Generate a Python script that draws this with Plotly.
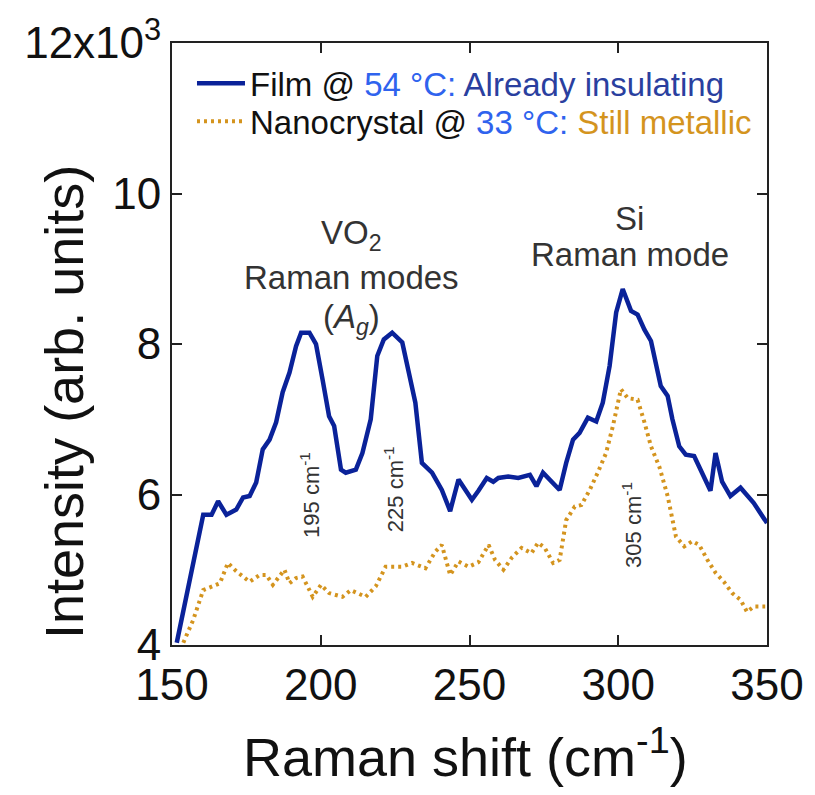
import plotly.graph_objects as go

# Film @ 54 °C (solid blue)
film_x = [151.6,160.5,163.3,165.5,168.3,171.6,173.9,176.1,178.3,180.5,182.8,185.0,187.2,189.5,191.7,193.4,196.2,198.4,200.6,202.8,
          204.5,206.8,208.4,211.8,214.0,216.8,219.0,221.2,224.0,227.4,229.6,231.8,234.0,237.4,240.7,243.5,246.3,250.8,253.0,255.8,
          258.0,259.7,263.0,266.4,270.3,272.5,274.7,277.0,280.3,282.5,284.8,287.0,289.8,292.6,294.8,297.1,299.3,301.5,304.3,306.5,
          308.8,311.0,312.6,314.3,316.6,318.2,320.5,322.7,325.5,328.3,331.0,332.7,334.9,337.7,341.1,345.5,350.0]
film_y = [4.03,5.73,5.73,5.91,5.73,5.80,5.96,5.98,6.16,6.60,6.73,6.96,7.36,7.62,7.97,8.15,8.15,8.0,7.53,7.04,
          6.91,6.33,6.29,6.33,6.55,7.0,7.84,8.06,8.15,8.02,7.62,7.22,6.42,6.29,6.06,5.78,6.20,5.93,6.05,6.22,
          6.17,6.22,6.24,6.22,6.26,6.11,6.29,6.20,6.06,6.42,6.73,6.82,7.02,6.97,7.22,7.71,8.42,8.73,8.44,8.39,
          8.19,8.04,7.75,7.44,7.31,7.0,6.64,6.53,6.51,6.29,6.05,6.55,6.17,5.98,6.09,5.89,5.62]

# Nanocrystal @ 33 °C (dotted orange)
nano_x = [153.8,157.1,160.5,163.8,166.1,168.8,171.6,176.1,179.4,181.7,183.9,187.8,189.5,191.7,193.9,196.2,197.3,200.1,202.8,207.3,
          210.1,215.1,218.5,221.8,227.4,230.7,235.2,238.5,240.7,243.5,246.3,249.7,253.0,256.4,258.6,261.4,264.2,267.5,270.8,273.1,
          275.3,278.1,280.3,282.5,285.4,287.6,290.4,293.1,295.9,298.2,300.9,303.2,306.5,308.8,311.0,313.8,316.6,319.4,322.2,324.9,
          327.2,330.0,332.7,335.5,338.3,341.1,343.3,345.5,349.4]
nano_y = [4.03,4.33,4.73,4.78,4.82,5.09,4.98,4.84,4.93,4.93,4.80,5.0,4.82,4.89,4.91,4.73,4.64,4.80,4.69,4.64,
          4.73,4.64,4.78,5.04,5.04,5.09,5.02,5.24,5.33,4.93,5.11,5.04,5.10,5.33,5.13,5.0,5.16,5.29,5.22,5.36,
          5.29,5.09,5.13,5.66,5.84,5.86,6.06,6.29,6.55,6.91,7.40,7.28,7.26,6.96,6.64,6.37,5.98,5.44,5.31,5.38,
          5.33,5.13,4.96,4.84,4.69,4.60,4.44,4.51,4.51]

x_ticks = [150, 200, 250, 300, 350]
y_ticks = [4, 6, 8, 10, 12]
y_ticktext = ["4", "6", "8", "10", "12x10<sup>3</sup>"]

peak_labels = ["195 cm<sup>-1</sup>", "225 cm<sup>-1</sup>", "305 cm<sup>-1</sup>"]
peak_label_x = [196.2, 224.6, 304.8]
peak_label_y = [6.0, 6.07, 5.59]

BLUE = "#0a2299"
LIGHT_BLUE = "#2f63ee"
MID_BLUE = "#2a3f9f"
ORANGE = "#d4941e"
FONT = "Liberation Sans, Arial, sans-serif"
TXT = "#111111"

fig = go.Figure()
fig.add_trace(go.Scatter(
    x=film_x, y=film_y, mode="lines",
    line=dict(color=BLUE, width=4.5),
    name=f'Film @ <span style="color:{LIGHT_BLUE}">54 °C:</span><span style="color:{MID_BLUE}"> Already insulating</span>',
    legend="legend",
))
fig.add_trace(go.Scatter(
    x=nano_x, y=nano_y, mode="lines",
    line=dict(color=ORANGE, width=4, dash="3px,4px"),
    name=f'Nanocrystal @ <span style="color:{LIGHT_BLUE}">33 °C:</span><span style="color:{ORANGE}"> Still metallic</span>',
    legend="legend2",
))

annots = []
for t, xx, yy in zip(peak_labels, peak_label_x, peak_label_y):
    annots.append(dict(x=xx, y=yy, xref="x", yref="y", text=t, showarrow=False,
                       textangle=-90, font=dict(size=22, color="#333333", family=FONT)))

ann_font = dict(size=33, color="#333333", family=FONT)
annots += [
    dict(x=210.2, y=9.45, xref="x", yref="y", text="VO<sub>2</sub>", showarrow=False, font=ann_font),
    dict(x=210.2, y=8.89, xref="x", yref="y", text="Raman modes", showarrow=False, font=ann_font),
    dict(x=210.2, y=8.33, xref="x", yref="y", text="(<i>A<sub>g</sub></i>)", showarrow=False, font=ann_font),
    dict(x=303.8, y=9.67, xref="x", yref="y", text="Si", showarrow=False, font=ann_font),
    dict(x=303.8, y=9.19, xref="x", yref="y", text="Raman mode", showarrow=False, font=ann_font),
    # axis titles
    dict(x=0.4925, y=-0.179, xref="paper", yref="paper", text="Raman shift (cm<sup>-1</sup>)",
         showarrow=False, xanchor="center", yanchor="middle", font=dict(size=54, family=FONT, color=TXT)),
    dict(x=-0.1815, y=0.4037, xref="paper", yref="paper", text="Intensity (arb. units)", textangle=-90,
         showarrow=False, xanchor="center", yanchor="middle", font=dict(size=54, family=FONT, color=TXT)),
]

axis_common = dict(
    showline=True, linecolor="#222222", linewidth=2, mirror="ticks",
    ticks="inside", ticklen=10, tickwidth=2, tickcolor="#222222",
    showgrid=False, zeroline=False, automargin=False,
    tickfont=dict(size=44, color=TXT, family=FONT),
)

legend_common = dict(xanchor="left", yanchor="middle", bgcolor="rgba(0,0,0,0)", borderwidth=0,
                     font=dict(size=33, family=FONT, color=TXT), itemwidth=48)

# the page body adds an 8px offset, so the figure is 8px smaller and margins compensate
fig.update_layout(
    width=807, height=787,
    margin=dict(l=164, r=48, t=35, b=150),
    paper_bgcolor="white", plot_bgcolor="white",
    font=dict(family=FONT, color=TXT),
    showlegend=True,
    legend=dict(x=0.0336, y=0.933, **legend_common),
    legend2=dict(x=0.0336, y=0.870, **legend_common),
    xaxis=dict(range=[150, 350], tickvals=x_ticks, ticktext=[str(v) for v in x_ticks], **axis_common),
    yaxis=dict(range=[4, 12], tickvals=y_ticks, ticktext=y_ticktext, **axis_common),
    annotations=annots,
)

fig.write_html("out.html")
